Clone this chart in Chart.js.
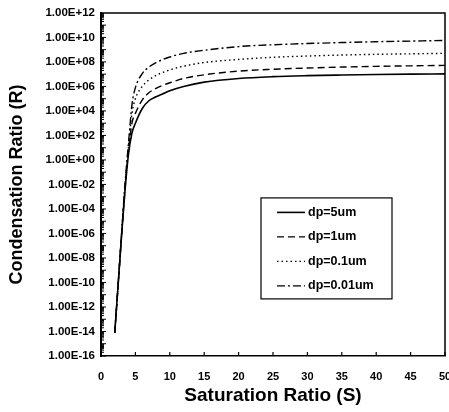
<!DOCTYPE html>
<html>
<head>
<meta charset="utf-8">
<script src="https://cdn.jsdelivr.net/npm/chart.js@4/dist/chart.umd.min.js"></script>
<style>
  html, body { margin: 0; padding: 0; background: #fff; }
  #wrap { width: 449px; height: 412px; }
</style>
</head>
<body>
<div id="wrap"><canvas id="chart" width="449" height="412"></canvas></div>
<script>
// saturation ratio S (x) and log10 of condensation ratio R
const satRatio = [2, 2.5, 3, 3.5, 4, 4.5, 5, 6, 7, 8, 9, 10, 12, 15, 20, 25, 30, 35, 40, 45, 50];
const logR_5um = [-14.1, -10.1, -6.1, -2.4, 0.5, 2.2, 3.0, 4.2, 4.85, 5.15, 5.4, 5.65, 6.0, 6.35, 6.65, 6.8, 6.88, 6.93, 6.97, 7.0, 7.02];
const logR_1um = [-14.1, -10.1, -6.05, -2.3, 0.8, 3.0, 3.8, 4.9, 5.5, 5.85, 6.1, 6.3, 6.65, 6.95, 7.25, 7.4, 7.5, 7.58, 7.64, 7.68, 7.72];
const logR_01um = [-14.1, -10.1, -6.0, -2.1, 1.1, 3.8, 5.0, 6.0, 6.55, 6.9, 7.15, 7.35, 7.65, 7.95, 8.2, 8.38, 8.48, 8.56, 8.62, 8.66, 8.7];
const logR_001um = [-14.1, -10.1, -5.95, -1.9, 1.4, 4.5, 5.9, 7.05, 7.6, 7.95, 8.2, 8.4, 8.7, 8.95, 9.25, 9.4, 9.5, 9.58, 9.65, 9.7, 9.75];

const seriesLabels = ['dp=5um', 'dp=1um', 'dp=0.1um', 'dp=0.01um'];
const yTickExponents = [-16, -14, -12, -10, -8, -6, -4, -2, 0, 2, 4, 6, 8, 10, 12];
const xTicks = [0, 5, 10, 15, 20, 25, 30, 35, 40, 45, 50];

const FONT = '"Liberation Sans", Arial, sans-serif';
const dashes = [[], [7, 4], [1.5, 3], [8, 3, 2, 3]];
const widths = [1.6, 1.4, 1.4, 1.4];

function toPoints(logs) {
  return satRatio.map((s, i) => ({ x: s, y: Math.pow(10, logs[i]) }));
}

function sciLabel(v) {
  const e = Math.round(Math.log10(v));
  return '1.00E' + (e < 0 ? '-' : '+') + String(Math.abs(e)).padStart(2, '0');
}

const datasets = [logR_5um, logR_1um, logR_01um, logR_001um].map((logs, i) => ({
  label: seriesLabels[i],
  data: toPoints(logs),
  showLine: true,
  borderColor: '#000',
  borderWidth: widths[i],
  borderDash: dashes[i],
  pointRadius: 0,
  cubicInterpolationMode: 'monotone',
  fill: false
}));

// frame, inward tick marks and the boxed legend inside the plot
const framePlugin = {
  id: 'frame',
  afterDraw(chart) {
    const { ctx, chartArea: a, scales } = chart;
    ctx.save();
    ctx.strokeStyle = '#000';

    ctx.lineWidth = 1.5;
    ctx.beginPath();
    ctx.moveTo(a.left, a.top);
    ctx.lineTo(a.right, a.top);
    ctx.lineTo(a.right, a.bottom);
    ctx.stroke();

    // x ticks pointing up
    ctx.lineWidth = 1.2;
    xTicks.forEach(t => {
      const px = scales.x.getPixelForValue(t);
      ctx.beginPath();
      ctx.moveTo(px, a.bottom);
      ctx.lineTo(px, a.bottom - 4);
      ctx.stroke();
    });

    // log minor ticks along the left axis
    ctx.lineWidth = 1;
    for (let e = -16; e < 12; e++) {
      for (let k = 1; k < 10; k++) {
        const py = scales.y.getPixelForValue(k * Math.pow(10, e));
        const len = k === 1 ? 5 : 3;
        ctx.beginPath();
        ctx.moveTo(a.left - 1, py);
        ctx.lineTo(a.left + len, py);
        ctx.stroke();
      }
    }

    // legend box
    const bx = a.left + 160, by = a.top + 185, bw = 131, bh = 101;
    ctx.fillStyle = '#fff';
    ctx.fillRect(bx, by, bw, bh);
    ctx.lineWidth = 1.2;
    ctx.strokeRect(bx, by, bw, bh);
    ctx.font = 'bold 12.5px ' + FONT;
    ctx.textBaseline = 'middle';
    ctx.fillStyle = '#000';
    chart.data.datasets.forEach((ds, i) => {
      const ry = by + 14.5 + i * 24.5;
      ctx.lineWidth = ds.borderWidth;
      ctx.setLineDash(ds.borderDash);
      ctx.beginPath();
      ctx.moveTo(bx + 16, ry);
      ctx.lineTo(bx + 44, ry);
      ctx.stroke();
      ctx.setLineDash([]);
      ctx.fillText(ds.label, bx + 47, ry);
    });
    ctx.restore();
  }
};

new Chart(document.getElementById('chart'), {
  type: 'scatter',
  data: { datasets },
  options: {
    responsive: false,
    animation: false,
    devicePixelRatio: 1,
    layout: { padding: { top: 12, right: 4, left: 0, bottom: 0 } },
    plugins: { legend: { display: false }, tooltip: { enabled: false } },
    scales: {
      x: {
        type: 'linear',
        min: 0,
        max: 50,
        afterFit: s => { s.height = 56; s.paddingRight = 0; s.paddingLeft = 0; },
        grid: { display: false, drawTicks: false },
        border: { display: true, color: '#000', width: 1.6 },
        ticks: {
          stepSize: 5,
          padding: 14,
          color: '#000',
          font: { family: FONT, size: 11, weight: 'bold' }
        },
        title: {
          display: true,
          text: 'Saturation Ratio (S)',
          color: '#000',
          padding: { top: 0, bottom: 5 },
          font: { family: FONT, size: 19, weight: 'bold' }
        }
      },
      y: {
        type: 'logarithmic',
        min: 1e-16,
        max: 1e12,
        afterFit: s => { s.width = 101; },
        afterBuildTicks: s => { s.ticks = yTickExponents.map(e => ({ value: Math.pow(10, e) })); },
        grid: { display: false, drawTicks: false },
        border: { display: true, color: '#000', width: 2 },
        ticks: {
          padding: 6,
          color: '#000',
          autoSkip: false,
          font: { family: FONT, size: 11.5, weight: 'bold' },
          callback: v => sciLabel(v)
        },
        title: {
          display: true,
          text: 'Condensation Ratio (R)',
          color: '#000',
          padding: { top: 6, bottom: 0 },
          font: { family: FONT, size: 18, weight: 'bold' }
        }
      }
    }
  },
  plugins: [framePlugin]
});
</script>
</body>
</html>
